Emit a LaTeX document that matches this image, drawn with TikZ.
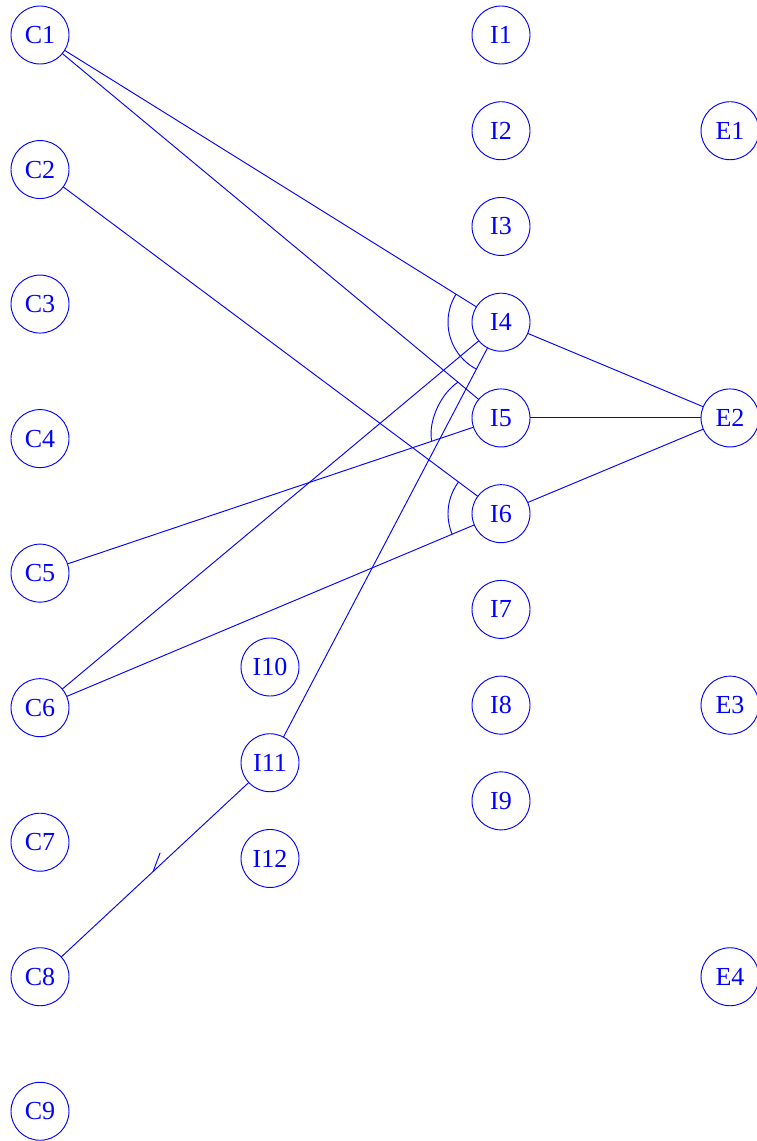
\documentclass[tikz,border=0pt]{standalone}
\usepackage{fontspec}
\setmainfont{Liberation Serif}
\usepackage{tikz}
\usetikzlibrary{positioning, calc, decorations.markings}

\begin{document}
\begin{tikzpicture}[x=0.75pt, y=0.75pt]
% Define styles
\tikzstyle{item} = [circle, draw=blue, text=blue, line width=0.7pt, minimum size=43.5pt, inner sep=0pt, outer sep=0pt, font=\fontsize{19.5}{20}\selectfont]
\tikzstyle{link} = [draw=blue, line width=0.7pt]
\tikzstyle{andarc} = [draw=blue, line width=0.7pt]
\tikzstyle{harpoon} = [postaction={decorate}, decoration={markings, mark=at position 0.51 with {\draw[blue, line width=0.7pt] (0,0) -- (-13.4pt,-6.7pt);}}]

\useasboundingbox (0,0) rectangle (756,-1141);

% Nodes
\node (c1) [item] at (40,-35) {C1};
\node (c2) [item, below=57.4pt of c1] {C2};
\node (c3) [item, below=57.4pt of c2] {C3};
\node (c4) [item, below=57.4pt of c3] {C4};
\node (c5) [item, below=57.4pt of c4] {C5};
\node (c6) [item, below=57.4pt of c5] {C6};
\node (c7) [item, below=57.4pt of c6] {C7};
\node (c8) [item, below=57.4pt of c7] {C8};
\node (c9) [item, below=57.4pt of c8] {C9};

\node (i1) [item] at (501,-35) {I1};
\node (i2) [item, below=28.3pt of i1] {I2};
\node (i3) [item, below=28.3pt of i2] {I3};
\node (i4) [item, below=28.3pt of i3] {I4};
\node (i5) [item, below=28.3pt of i4] {I5};
\node (i6) [item, below=28.3pt of i5] {I6};
\node (i7) [item, below=28.3pt of i6] {I7};
\node (i8) [item, below=28.3pt of i7] {I8};
\node (i9) [item, below=28.3pt of i8] {I9};

\node (i10) [item] at (270,-667) {I10};
\node (i11) [item, below=28.3pt of i10] {I11};
\node (i12) [item, below=28.3pt of i11] {I12};

\node (e1) [item, right=128.25pt of i2] {E1};
\node (e2) [item, right=128.25pt of i5] {E2};
\node (e3) [item, right=128.25pt of i8] {E3};
\node (e4) [item] at (e1 |- c8) {E4};

% Connections
\draw [link] (c1) -- (i4);
\draw [link] (c1) -- (i5);
\draw [link] (c2) -- (i6);
\draw [link] (c5) -- (i5);
\draw [link] (c6) -- (i4);
\draw [link] (c6) -- (i6);
\draw [link] (i11) -- (i4);
\draw [link, harpoon] (i11) -- (c8);
\draw [link] (i4) -- (e2);
\draw [link] (i5) -- (e2);
\draw [link] (i6) -- (e2);

% And-arcs
\draw [andarc] ([shift={(148.1:39.75pt)}]i4.center) arc[start angle=148.1, end angle=242.3, radius=39.75pt];
\draw [andarc] ($(i5.center)+(140.3:42pt)$) .. controls ($(i5.center)+(-63,22)$) and ($(i5.center)+(-73,-7)$) .. ($(i5.center)+(198.6:54.75pt)$);
\draw [andarc] ([shift={(143.3:39.75pt)}]i6.center) arc[start angle=143.3, end angle=202.8, radius=39.75pt];

\end{tikzpicture}
\end{document}
